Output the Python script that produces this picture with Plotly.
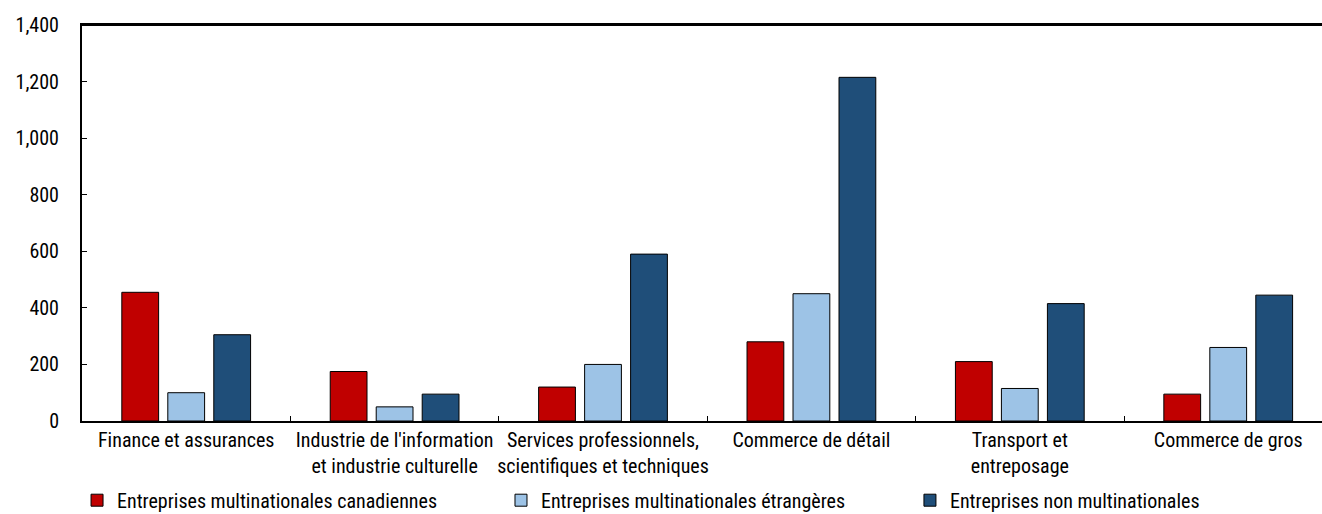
import plotly.graph_objects as go

categories = [
    "Finance et assurances",
    "Industrie de l'information<br>et industrie culturelle",
    "Services professionnels,<br>scientifiques et techniques",
    "Commerce de détail",
    "Transport et<br>entreposage",
    "Commerce de gros",
]
series_names = [
    "Entreprises multinationales canadiennes",
    "Entreprises multinationales étrangères",
    "Entreprises non multinationales",
]
mne_canadiennes = [455, 175, 120, 280, 210, 95]
mne_etrangeres = [100, 50, 200, 450, 115, 260]
non_mne = [305, 95, 590, 1215, 415, 445]
y_ticks = [0, 200, 400, 600, 800, 1000, 1200, 1400]

colors = ["#C00000", "#9DC3E6", "#1F4E79"]
FONT = "Liberation Sans Narrow, Roboto Condensed, Arial Narrow, Liberation Sans, sans-serif"

fig = go.Figure()
legends = ["legend", "legend2", "legend3"]
for name, vals, col, lg in zip(series_names, [mne_canadiennes, mne_etrangeres, non_mne], colors, legends):
    fig.add_trace(go.Bar(
        x=categories, y=vals, name=name, legend=lg,
        marker=dict(color=col, line=dict(color="#000000", width=1)),
    ))

leg_common = dict(orientation="h", yanchor="middle", y=-0.2, xanchor="left",
                  font=dict(family=FONT, size=20, color="#000000"),
                  bgcolor="rgba(0,0,0,0)", borderwidth=0)

fig.update_layout(
    width=1322, height=514,
    margin=dict(l=82, r=0, t=25, b=93, autoexpand=False),
    plot_bgcolor="white", paper_bgcolor="white",
    barmode="group", bargap=0.338, bargroupgap=0.2,
    font=dict(family=FONT, size=20, color="#000000"),
    showlegend=True,
    legend=dict(x=-0.004, **leg_common),
    legend2=dict(x=0.3379, **leg_common),
    legend3=dict(x=0.6677, **leg_common),
    xaxis=dict(
        type="category", range=[-0.5, 5.45], automargin=False, tickangle=0,
        showline=True, linecolor="#000000", linewidth=2, mirror=True,
        ticks="inside", tickson="boundaries", ticklen=5, tickcolor="#000000",
        showgrid=False, tickfont=dict(family=FONT, size=20, color="#000000"),
    ),
    yaxis=dict(
        range=[0, 1400], tickvals=y_ticks, tickformat=",", automargin=False,
        showline=True, linecolor="#000000", linewidth=2,
        ticks="inside", ticklen=5, tickcolor="#000000",
        showgrid=False, zeroline=False, ticklabelstandoff=17,
        tickfont=dict(family=FONT, size=20, color="#000000"),
    ),
    shapes=[dict(type="line", xref="paper", yref="paper", x0=0, x1=1, y0=1, y1=1,
                 line=dict(color="#000000", width=2), layer="above")],
)

fig.write_html(
    "out.html",
    config={"displayModeBar": False},
    post_script="document.body.style.margin='0';document.body.style.padding='0';",
)
